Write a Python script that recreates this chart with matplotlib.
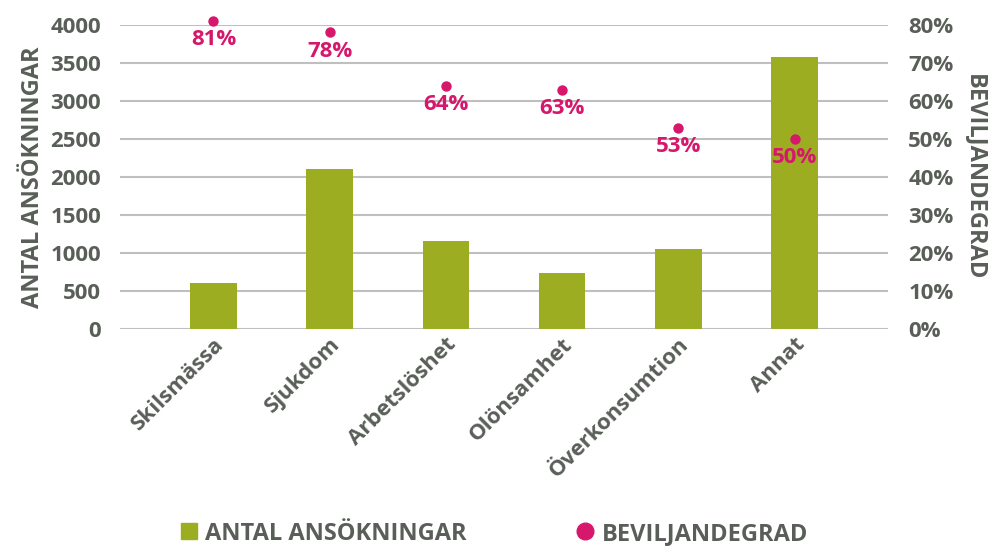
import matplotlib
matplotlib.use('Agg')
import matplotlib.pyplot as plt
from matplotlib.lines import Line2D

plt.rcParams['font.family'] = ['Open Sans', 'DejaVu Sans']

categories = ['Skilsmässa', 'Sjukdom', 'Arbetslöshet', 'Olönsamhet', 'Överkonsumtion', 'Annat']
antal = [600, 2100, 1160, 740, 1050, 3580]
grad = [81, 78, 64, 63, 53, 50]

green = '#9cad22'
pink = '#d6176b'
grey = '#595f58'

fig, ax = plt.subplots(figsize=(9.95, 5.53), dpi=100)
fig.subplots_adjust(left=0.121, right=0.892, top=0.955, bottom=0.405)

x = range(len(categories))
ax.bar(x, antal, width=0.4, color=green, zorder=2)
ax.set_ylim(0, 4000)
ax.set_xlim(-0.8, 5.8)
ax.set_yticks(range(0, 4001, 500))
ax.yaxis.grid(True, color='#bfbfbf', linewidth=1.5, zorder=0)
ax.set_axisbelow(True)
for s in ax.spines.values():
    s.set_visible(False)
ax.tick_params(axis='both', length=0, colors=grey, labelsize=16)
ax.tick_params(axis='y', pad=14)
ax.set_xticks(list(x))
ax.set_xticklabels(categories, rotation=45, ha='right', rotation_mode='anchor',
                   fontweight='bold', fontsize=16)
for lab in ax.get_yticklabels():
    lab.set_fontweight('bold')
ax.set_ylabel('ANTAL ANSÖKNINGAR', color=grey, fontsize=17, fontweight='bold', labelpad=4)

ax2 = ax.twinx()
ax2.set_ylim(0, 80)
ax2.set_yticks(range(0, 81, 10))
ax2.set_yticklabels([f'{v}%' for v in range(0, 81, 10)])
for s in ax2.spines.values():
    s.set_visible(False)
ax2.tick_params(axis='y', length=0, colors=grey, labelsize=16, pad=15)
for lab in ax2.get_yticklabels():
    lab.set_fontweight('bold')
ax2.scatter(x, grad, s=42, color=pink, zorder=3, clip_on=False)
for xi, g in zip(x, grad):
    ax2.annotate(f'{g}%', (xi, g), xytext=(0, -6), textcoords='offset points',
                 ha='center', va='top', color=pink, fontsize=16, fontweight='bold',
                 annotation_clip=False)
ax2.set_ylabel('BEVILJANDEGRAD', color=grey, fontsize=17, fontweight='bold',
               rotation=-90, labelpad=24)

handles = [Line2D([], [], marker='s', linestyle='', color=green, markersize=12),
           Line2D([], [], marker='o', linestyle='', color=pink, markersize=12)]
leg = fig.legend(handles, ['ANTAL ANSÖKNINGAR', 'BEVILJANDEGRAD'], loc='lower center',
                 bbox_to_anchor=(0.495, -0.025), ncol=2, frameon=False, columnspacing=4.5,
                 handletextpad=0.2, handlelength=1,
                 prop={'size': 17, 'weight': 'bold'})
for t in leg.get_texts():
    t.set_color(grey)

fig.savefig('out.png', dpi=100)
